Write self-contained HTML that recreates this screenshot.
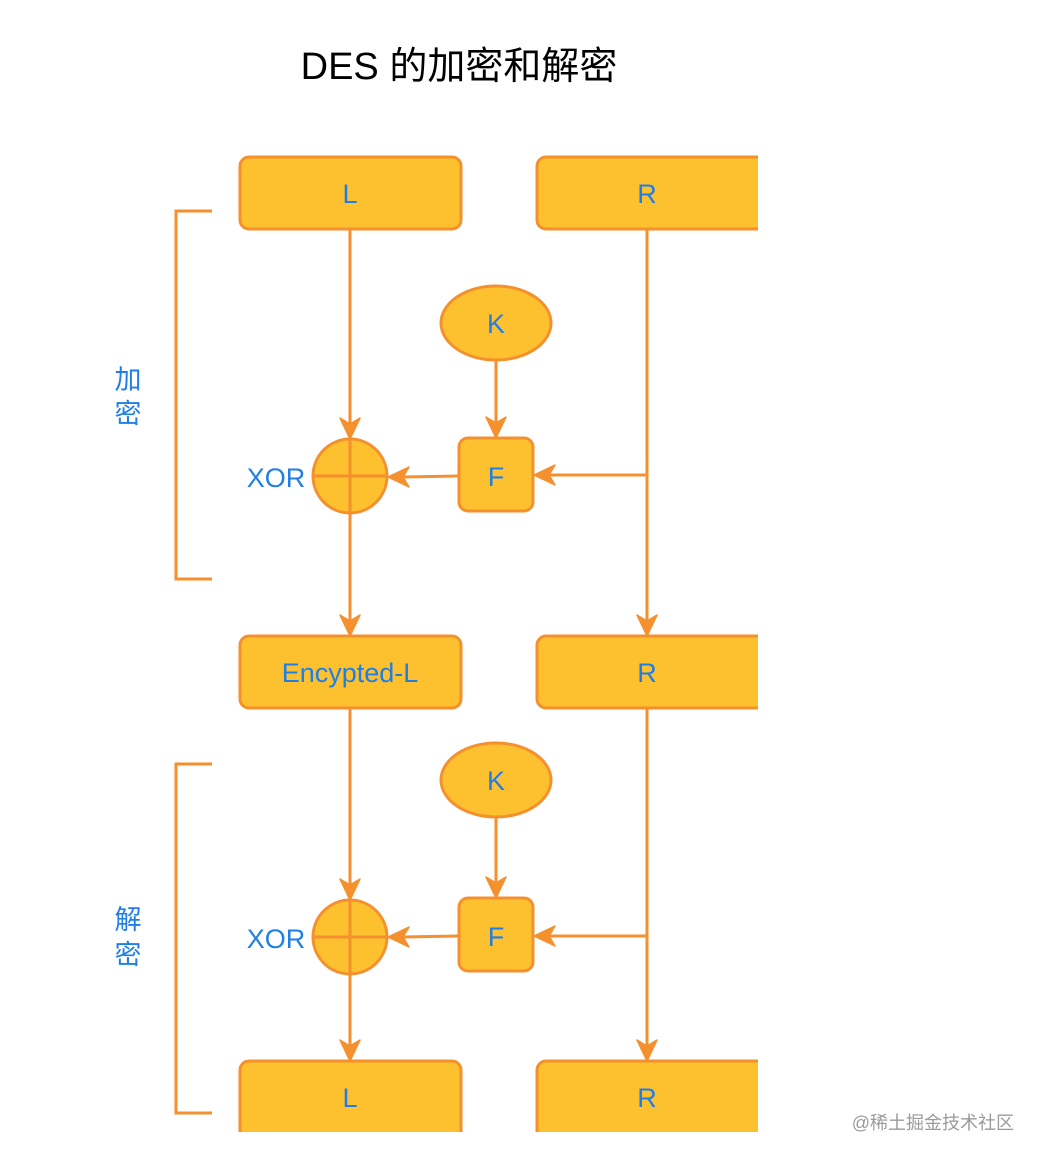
<!DOCTYPE html>
<html><head><meta charset="utf-8"><style>
html,body{margin:0;padding:0;background:#fff;}
svg{display:block;}
</style></head><body>
<svg width="1044" height="1162" viewBox="0 0 1044 1162" xmlns="http://www.w3.org/2000/svg">
<defs>
<clipPath id="c"><rect x="0" y="0" width="758" height="1132"/></clipPath>
</defs>
<text x="459" y="79" text-anchor="middle" font-family="Liberation Sans, Noto Sans CJK SC, sans-serif" font-size="38" fill="#000">DES 的加密和解密</text>

<g fill="none" stroke="#F5902E" stroke-width="3">
<polyline points="212,211 176,211 176,579 212,579"/>
<polyline points="212,764 176,764 176,1113 212,1113"/>
</g>
<g font-family="Liberation Sans, Noto Sans CJK SC, sans-serif" font-size="27" fill="#1F7FE6" text-anchor="middle">
<text x="128" y="389">加</text><text x="128" y="423">密</text>
<text x="128" y="929">解</text><text x="128" y="964">密</text>
</g>

<g clip-path="url(#c)">
<g stroke="#F5902E" stroke-width="3" fill="#FDC02F">
<rect x="240" y="157" width="221" height="72" rx="9"/>
<rect x="537" y="157" width="230" height="72" rx="9"/>
<rect x="240" y="636" width="221" height="72" rx="9"/>
<rect x="537" y="636" width="230" height="72" rx="9"/>
<rect x="240" y="1061" width="221" height="90" rx="9"/>
<rect x="537" y="1061" width="230" height="90" rx="9"/>
</g>
</g>

<g stroke="#F5902E" stroke-width="3" fill="none">
<line x1="350" y1="229" x2="350" y2="425"/>
<line x1="350" y1="513" x2="350" y2="622"/>
<line x1="647" y1="229" x2="647" y2="622"/>
<line x1="647" y1="475" x2="548" y2="475"/>
<line x1="496" y1="360" x2="496" y2="425"/>
<line x1="459" y1="476" x2="402" y2="477"/>
<line x1="350" y1="708" x2="350" y2="886"/>
<line x1="350" y1="974" x2="350" y2="1048"/>
<line x1="647" y1="708" x2="647" y2="1048"/>
<line x1="647" y1="936" x2="548" y2="936"/>
<line x1="496" y1="817" x2="496" y2="886"/>
<line x1="459" y1="936" x2="402" y2="937"/>
</g>

<g fill="#F5902E" stroke="#F5902E" stroke-width="1.5" stroke-linejoin="round">
<path d="M350,439 L340,418 L350,424 L360,418 Z"/>
<path d="M350,636 L340,615 L350,621 L360,615 Z"/>
<path d="M647,636 L637,615 L647,621 L657,615 Z"/>
<path d="M496,438 L486,417 L496,423 L506,417 Z"/>
<path d="M534,475 L555,465 L549,475 L555,485 Z"/>
<path d="M388,477 L409,467 L403,477 L409,487 Z"/>
<path d="M350,900 L340,879 L350,885 L360,879 Z"/>
<path d="M350,1061 L340,1040 L350,1046 L360,1040 Z"/>
<path d="M647,1061 L637,1040 L647,1046 L657,1040 Z"/>
<path d="M496,898 L486,877 L496,883 L506,877 Z"/>
<path d="M534,936 L555,926 L549,936 L555,946 Z"/>
<path d="M388,937 L409,927 L403,937 L409,947 Z"/>
</g>

<g stroke="#F5902E" stroke-width="3" fill="#FDC02F">
<ellipse cx="496" cy="323" rx="55" ry="37"/>
<ellipse cx="496" cy="780" rx="55" ry="37"/>
<rect x="459" y="438" width="74" height="73" rx="9"/>
<rect x="459" y="898" width="74" height="73" rx="9"/>
<circle cx="350" cy="476" r="37"/>
<circle cx="350" cy="937" r="37"/>
</g>
<g stroke="#F5902E" stroke-width="3">
<line x1="313" y1="476" x2="387" y2="476"/>
<line x1="350" y1="439" x2="350" y2="513"/>
<line x1="313" y1="937" x2="387" y2="937"/>
<line x1="350" y1="900" x2="350" y2="974"/>
</g>

<g font-family="Liberation Sans, sans-serif" font-size="27" fill="#1F7FE6" text-anchor="middle">
<text x="350" y="203">L</text>
<text x="647" y="203">R</text>
<text x="496" y="333">K</text>
<text x="496" y="486">F</text>
<text x="276" y="487">XOR</text>
<text x="350" y="682">Encypted-L</text>
<text x="647" y="682">R</text>
<text x="496" y="790">K</text>
<text x="496" y="946">F</text>
<text x="276" y="948">XOR</text>
<text x="350" y="1107">L</text>
<text x="647" y="1107">R</text>
</g>

<text x="1014" y="1129" text-anchor="end" font-family="Liberation Sans, Noto Sans CJK SC, sans-serif" font-size="18" fill="#9a9a9a">@稀土掘金技术社区</text>
</svg>
</body></html>
